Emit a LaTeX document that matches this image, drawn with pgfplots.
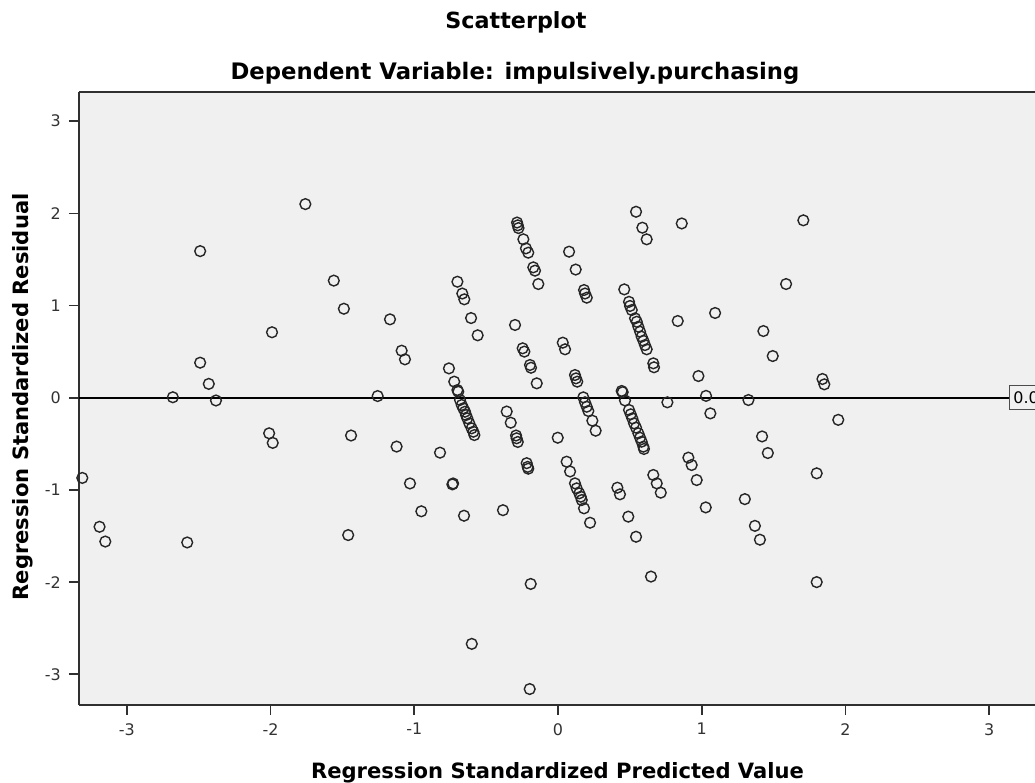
\documentclass[border=0pt]{standalone}
\usepackage{pgfplots}
\pgfplotsset{compat=1.18}
\usepackage{fontspec}
\setmainfont{DejaVu Sans}
\definecolor{bgc}{HTML}{F0F0F0}
\definecolor{axc}{HTML}{303030}
\begin{document}
\begin{tikzpicture}[x=1cm,y=1cm]
\begin{axis}[
  at={(0,0)}, anchor=south west,
  scale only axis, width=14.34cm, height=9.195cm,
  xmin=-3.333, xmax=3.319, ymin=-3.333, ymax=3.316,
  axis x line*=bottom, axis y line*=left,
  axis line style={axc, line width=0.7pt, -},
  xtick={-3,-2,-1,0,1,2,3}, ytick={-3,-2,-1,0,1,2,3},
  tick align=outside, major tick length=0.15cm,
  tick style={axc, line width=0.7pt},
  ticklabel style={font=\fontsize{6.8}{8}\selectfont, text=black!80},
  /pgf/number format/assume math mode=true,
  axis background/.style={fill=bgc},
]
\addplot[black, line width=0.8pt, forget plot] coordinates {(-3.4,0) (3.4,0)};
\addplot[only marks, mark=o, mark size=2.3pt, mark options={draw=black!85, line width=0.6pt}] table {
x y
-1.758 2.10
-2.49 1.59
-1.56 1.27
-1.49 0.965
-1.99 0.71
-2.49 0.38
-2.43 0.15
-2.68 0.005
-2.38 -0.03
-3.31 -0.87
-3.19 -1.40
-3.15 -1.56
-2.58 -1.57
-2.01 -0.386
-1.985 -0.49
-1.44 -0.41
-1.46 -1.49
-1.169 0.85
-1.088 0.51
-1.065 0.416
-1.255 0.018
-1.123 -0.53
-0.821 -0.596
-1.03 -0.93
-0.735 -0.94
-0.73 -0.93
-0.951 -1.232
-0.654 -1.28
-0.383 -1.22
-0.19 -2.02
-0.60 -2.67
-0.197 -3.16
-0.70 1.258
-0.666 1.13
-0.652 1.067
-0.605 0.864
-0.559 0.677
-0.759 0.318
-0.722 0.174
-0.70 0.083
-0.694 0.065
-0.682 -0.025
-0.670 -0.079
-0.659 -0.115
-0.647 -0.152
-0.640 -0.188
-0.631 -0.223
-0.617 -0.278
-0.601 -0.332
-0.589 -0.369
-0.582 -0.405
-0.285 1.90
-0.280 1.87
-0.275 1.84
-0.241 1.718
-0.223 1.62
-0.207 1.573
-0.172 1.414
-0.16 1.378
-0.137 1.233
-0.299 0.789
-0.246 0.536
-0.234 0.50
-0.195 0.355
-0.188 0.325
-0.148 0.156
-0.357 -0.15
-0.329 -0.271
-0.292 -0.41
-0.288 -0.44
-0.28 -0.48
-0.218 -0.71
-0.211 -0.75
-0.207 -0.77
0.077 1.584
0.123 1.39
0.181 1.168
0.188 1.13
0.20 1.085
0.033 0.597
0.049 0.525
0.118 0.246
0.125 0.21
0.134 0.174
0.176 0.004
0.188 -0.05
0.20 -0.098
0.211 -0.144
0.239 -0.249
0.262 -0.358
-0.002 -0.434
0.06 -0.694
0.084 -0.80
0.118 -0.929
0.13 -0.983
0.148 -1.037
0.158 -1.074
0.165 -1.11
0.181 -1.2
0.223 -1.356
0.543 2.017
0.587 1.844
0.617 1.718
0.861 1.89
0.461 1.175
0.494 1.04
0.501 0.995
0.513 0.951
0.536 0.861
0.548 0.824
0.559 0.77
0.571 0.716
0.582 0.662
0.594 0.618
0.605 0.571
0.617 0.525
0.663 0.373
0.668 0.33
0.833 0.832
0.977 0.235
0.443 0.073
0.45 0.06
0.466 -0.03
0.494 -0.133
0.506 -0.18
0.517 -0.224
0.529 -0.278
0.543 -0.325
0.559 -0.386
0.571 -0.434
0.582 -0.477
0.594 -0.531
0.598 -0.556
0.761 -0.05
0.413 -0.976
0.431 -1.048
0.489 -1.29
0.543 -1.508
0.647 -1.94
0.663 -0.838
0.687 -0.929
0.715 -1.03
0.907 -0.65
0.93 -0.73
0.965 -0.893
1.028 -1.19
1.03 0.02
1.325 -0.025
1.06 -0.17
1.84 0.203
1.853 0.145
1.95 -0.24
1.42 -0.42
1.46 -0.60
1.80 -0.82
1.30 -1.10
1.37 -1.39
1.405 -1.54
1.80 -2.00
1.86 -3.42
1.707 1.924
1.587 1.233
1.093 0.919
1.429 0.723
1.494 0.452
};
\draw[axc, line width=0.7pt] (rel axis cs:0,1) -- (rel axis cs:1,1);
\node[draw=black!70, fill=bgc, line width=0.5pt, anchor=west, inner xsep=1.5pt, inner ysep=2.5pt, font=\fontsize{6.8}{8}\selectfont] at (axis cs:3.14,0) {0.0};
\end{axis}
\node[anchor=base, font=\fontsize{9.5}{11}\selectfont\bfseries] at (6.555,10.14) {Scatterplot};
\node[anchor=base, font=\fontsize{9.7}{12}\selectfont\bfseries] at (6.54,9.375) {Dependent Variable: impulsively.purchasing};
\node[anchor=base, font=\fontsize{9}{11}\selectfont\bfseries] at (7.1775,-1.095) {Regression Standardized Predicted Value};
\node[anchor=base, rotate=90, font=\fontsize{9}{11}\selectfont\bfseries] at (-0.765,4.62) {Regression Standardized Residual};
\pgfresetboundingbox
\path[use as bounding box] (-1.185,-1.17) rectangle (14.34,10.575);
\end{tikzpicture}
\end{document}
